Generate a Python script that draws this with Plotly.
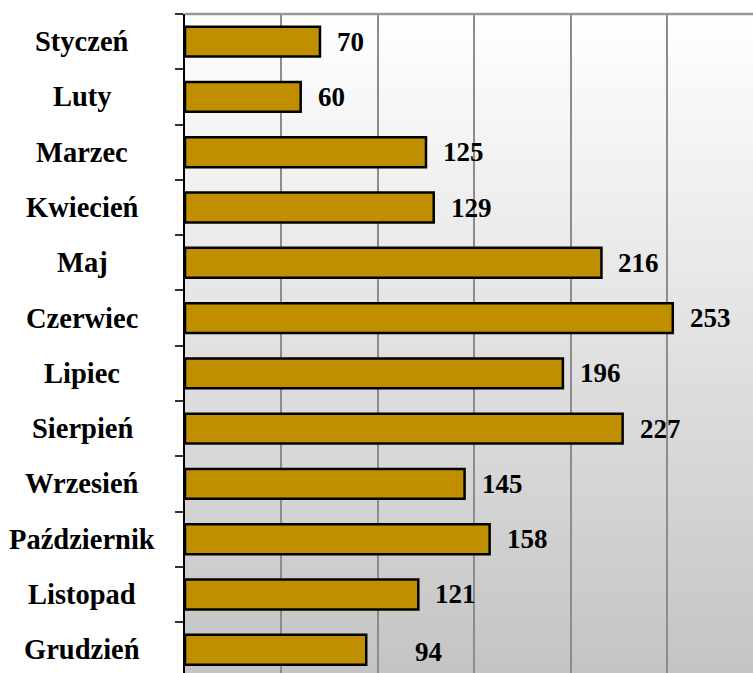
import plotly.graph_objects as go

months = ["Styczeń", "Luty", "Marzec", "Kwiecień", "Maj", "Czerwiec",
          "Lipiec", "Sierpień", "Wrzesień", "Październik", "Listopad", "Grudzień"]
values = [70, 60, 125, 129, 216, 253, 196, 227, 145, 158, 121, 94]
# extra horizontal offset (px) of each data label beyond the bar end
label_shift = [15, 15, 15, 15, 15, 15, 15, 15, 15, 15, 15, 47]

FONT = "Liberation Serif, Times New Roman, serif"

fig = go.Figure()
fig.add_trace(go.Bar(
    y=months, x=values, orientation="h", width=0.54,
    marker=dict(color="#BF8F00", line=dict(color="#000000", width=2.5)),
    hoverinfo="x+y",
))

# gradient background of the plot area (white at top -> gray at bottom)
shapes = []
N = 80
for i in range(N):
    t = (i + 0.5) / N  # 0 at top, 1 at bottom
    g = round(255 - (255 - 196) * t)
    shapes.append(dict(type="rect", xref="paper", yref="paper",
                       x0=0, x1=1, y0=1 - (i + 1) / N - 0.002, y1=1 - i / N,
                       fillcolor=f"rgb({g},{g},{g})", line=dict(width=0),
                       layer="below"))
# top border of plot area
shapes.append(dict(type="line", xref="paper", yref="paper", x0=0, x1=1, y0=1, y1=1,
                   line=dict(color="#999999", width=2.5), layer="above"))

annotations = []
for m, v, s in zip(months, values, label_shift):
    annotations.append(dict(x=v, y=m, xref="x", yref="y", text=f"<b>{v}</b>",
                            showarrow=False, xanchor="left", yanchor="middle",
                            xshift=s, yshift=(-2 if s > 20 else 0),
                            font=dict(family=FONT, size=27, color="#000000")))
for m in months:
    annotations.append(dict(x=(82 - 185) / 568, y=m, xref="paper", yref="y",
                            text=f"<b>{m}</b>", showarrow=False,
                            xanchor="center", yanchor="middle",
                            font=dict(family=FONT, size=28.5, color="#000000")))

fig.update_layout(
    width=753, height=673,
    margin=dict(l=185, r=0, t=14, b=0),
    paper_bgcolor="white", plot_bgcolor="white",
    showlegend=False, bargap=0.46,
    shapes=shapes, annotations=annotations,
    xaxis=dict(range=[0, 294.6], dtick=50, tick0=0, showgrid=True,
               gridcolor="#8c8c8c", gridwidth=1.5, showticklabels=False,
               zeroline=False, showline=False, ticks=""),
    yaxis=dict(categoryorder="array", categoryarray=months,
               range=[11.42, -0.5], showticklabels=False,
               showline=True, linecolor="#000000", linewidth=2,
               ticks="outside", ticklen=8, tickwidth=1.5, tickcolor="#333333",
               tickson="boundaries", showgrid=False, zeroline=False),
)

fig.write_html(
    "out.html",
    config={"displayModeBar": False},
    post_script="document.body.style.margin='0';document.body.style.overflow='hidden';",
)
